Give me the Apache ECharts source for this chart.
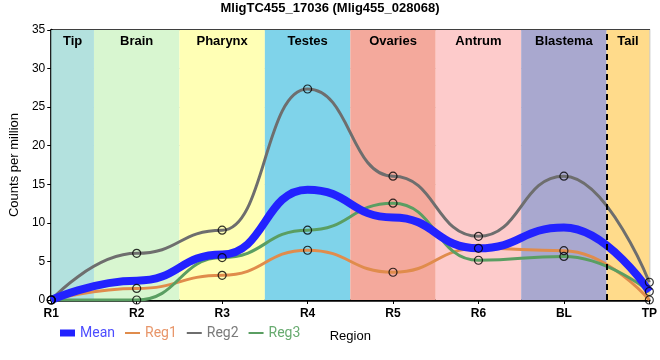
<!DOCTYPE html>
<html><head><meta charset="utf-8">
<script src="https://cdn.jsdelivr.net/npm/echarts@6/dist/echarts.min.js"></script>
<style>html,body{margin:0;padding:0;background:#fff}#c{width:660px;height:360px}</style>
</head><body><div id="c"></div>
<script>
var categories = ['R1','R2','R3','R4','R5','R6','BL','TP'];
var reg1 = [0, 1.5, 3.2, 6.45, 3.6, 6.7, 6.4, 0];
var reg2 = [0, 6.05, 9.05, 27.35, 16.05, 8.25, 16.05, 2.3];
var reg3 = [0, 0, 5.5, 9.05, 12.55, 5.15, 5.65, 1.1];
var mean = [0, 2.5, 5.9, 14.3, 10.7, 6.7, 9.4, 1.1];
var bandNames = ['Tip','Brain','Pharynx','Testes','Ovaries','Antrum','Blastema','Tail'];
var bandStart = [0, 0.5, 1.5, 2.5, 3.5, 4.5, 5.5, 6.5];
var bandEnd = [0.5, 1.5, 2.5, 3.5, 4.5, 5.5, 6.5, 7];
var bandColors = ['#b3e1de','#d8f6d0','#ffffb5','#7fd3ea','#f4a99c','#fdcbcb','#a9a8cf','#ffdb8b'];
var tailBoundary = 6.5;

function pts(arr){ return arr.map(function(v,i){ return [i, v]; }); }
var chart = echarts.init(document.getElementById('c'));
var font = 'Liberation Sans, Arial, sans-serif';
var bands = bandNames.map(function(n,i){
  return [{xAxis: bandStart[i], name: n, itemStyle:{color: bandColors[i], opacity:1}}, {xAxis: bandEnd[i]}];
});
var colors = {mean:'#2222ff', reg1:'#e08c4c', reg2:'#6e6e6e', reg3:'#5a9e62'};
function lineSeries(name, arr, color, width, z){
  return {name:name, type:'line', data:pts(arr), smooth:0.5, smoothMonotone:'x', symbol:'none', showSymbol:false,
    lineStyle:{color:color, width:width}, itemStyle:{color:color}, z:z, silent:true};
}
function dots(arr){
  return {type:'scatter', data:pts(arr), symbol:'circle', symbolSize:8, z:10, silent:true,
    itemStyle:{color:'rgba(255,255,255,0)', borderColor:'#000', borderWidth:1.2}};
}
var lf = 'Roboto, sans-serif';
var option = {
  animation:false,
  textStyle:{fontFamily:font},
  title:{text:'MligTC455_17036 (Mlig455_028068)', left:'center', top:2, padding:0,
    textStyle:{fontSize:13, fontWeight:'bold', color:'#000', fontFamily:font}},
  grid:{left:50, right:10, top:30, bottom:60, show:true, borderColor:'#000', borderWidth:1.5},
  legend:[
    {left:55, top:321, itemWidth:15, itemHeight:7, icon:'rect',
     data:[{name:'Mean', textStyle:{color:'#4d4dff', fontSize:14, fontFamily:lf}}]},
    {left:120, top:321, itemWidth:15, itemHeight:2, itemGap:10, icon:'rect',
     data:[
      {name:'Reg1', textStyle:{color:'#e8966a', fontSize:14, fontFamily:lf}},
      {name:'Reg2', textStyle:{color:'#7a7a7a', fontSize:14, fontFamily:lf}},
      {name:'Reg3', textStyle:{color:'#68ab70', fontSize:14, fontFamily:lf}}
     ]}
  ],
  xAxis:{type:'value', min:0, max:7, interval:1, name:'Region', nameLocation:'middle', nameGap:30,
    nameTextStyle:{color:'#000', fontSize:13},
    axisLine:{lineStyle:{color:'#000', width:2.5}}, axisTick:{show:true, length:4, lineStyle:{color:'#000'}},
    axisLabel:{color:'#000', fontSize:12, fontWeight:'bold', margin:8, formatter:function(v){return categories[v];}},
    splitLine:{show:true, lineStyle:{color:'#cccccc', width:1}}},
  yAxis:{type:'value', min:0, max:35, interval:5, name:'Counts per million', nameLocation:'middle', nameGap:22,
    nameTextStyle:{color:'#000', fontSize:13},
    axisLine:{show:true, lineStyle:{color:'#000', width:2.5}}, axisTick:{show:true, length:4, lineStyle:{color:'#000'}},
    axisLabel:{color:'#000', fontSize:12, margin:6},
    splitLine:{show:true, lineStyle:{color:'#cccccc', width:1}}},
  series:[
    {type:'line', data:[], silent:true, z:0,
      markArea:{silent:true, label:{show:true, position:'insideTop', distance:5, color:'#000', fontSize:13, fontWeight:'bold'}, data:bands},
      markLine:{silent:true, symbol:'none', label:{show:false}, lineStyle:{color:'#000', width:2, type:[6,4]}, data:[{xAxis:tailBoundary}], z:5}},
    lineSeries('Reg1', reg1, colors.reg1, 3, 3),
    lineSeries('Reg2', reg2, colors.reg2, 3, 3),
    lineSeries('Reg3', reg3, colors.reg3, 3, 3),
    lineSeries('Mean', mean, colors.mean, 8, 4),
    dots(reg1), dots(reg2), dots(reg3)
  ]
};
chart.setOption(option);
</script></body></html>
